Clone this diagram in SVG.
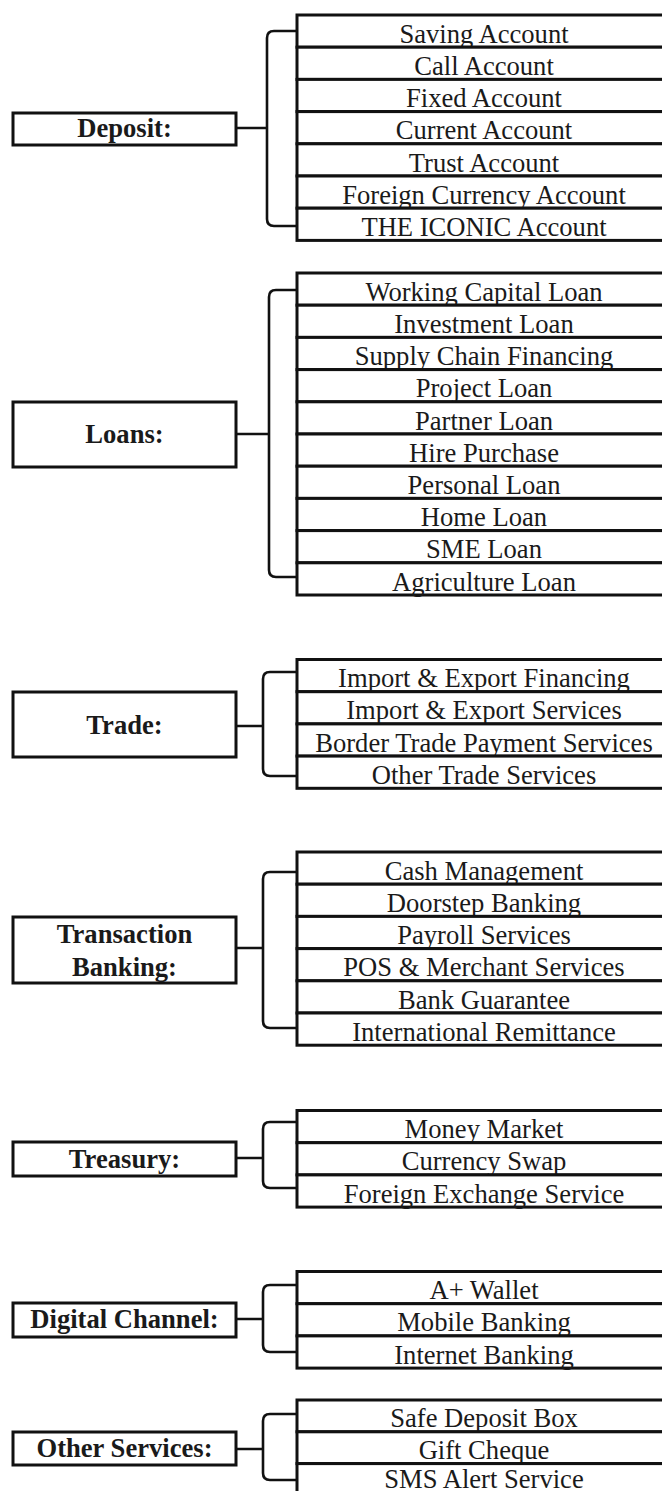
<svg xmlns="http://www.w3.org/2000/svg" width="662" height="1491" viewBox="0 0 662 1491">
  <style>
    .cat rect { fill: #fff; stroke: #111; stroke-width: 3; }
    .cat text { font-family: "Liberation Serif", "Times New Roman", serif; font-weight: bold; font-size: 26.6px; fill: #1a1a1a; text-anchor: middle; }
    .item rect { fill: #fff; stroke: #111; stroke-width: 3; }
    .item text { font-family: "Liberation Serif", "Times New Roman", serif; font-size: 26.6px; fill: #1a1a1a; text-anchor: middle; }
    #connectors path { fill: none; stroke: #111; stroke-width: 2.6; stroke-linejoin: round; }
  </style>
  <rect width="662" height="1491" fill="#fff"/>

  <!-- category boxes -->
  <g id="deposit" class="cat"><rect x="13" y="113" width="223" height="32"/><text x="124.5" y="137">Deposit:</text></g>
  <g id="loans" class="cat"><rect x="13" y="402" width="223" height="65"/><text x="124.5" y="443">Loans:</text></g>
  <g id="trade" class="cat"><rect x="13" y="692" width="223" height="65"/><text x="124.5" y="734">Trade:</text></g>
  <g id="transaction-banking" class="cat"><rect x="13" y="917" width="223" height="66"/><text x="124.5" y="943">Transaction</text><text x="124.5" y="976">Banking:</text></g>
  <g id="treasury" class="cat"><rect x="13" y="1142" width="223" height="34"/><text x="124.5" y="1168">Treasury:</text></g>
  <g id="digital-channel" class="cat"><rect x="13" y="1303" width="223" height="34"/><text x="124.5" y="1328">Digital Channel:</text></g>
  <g id="other-services" class="cat"><rect x="13" y="1432" width="223" height="33"/><text x="124.5" y="1457">Other Services:</text></g>

  <!-- connectors: stub from each category plus a bracket spanning its items -->
  <g id="connectors">
    <path d="M236,128 H267 M297,31 H274 Q267,31 267,38 V219 Q267,226 274,226 H297"/>
    <path d="M236,434 H269 M297,290 H276 Q269,290 269,297 V570 Q269,577 276,577 H297"/>
    <path d="M236,726 H263 M297,672 H270 Q263,672 263,679 V769 Q263,776 270,776 H297"/>
    <path d="M236,948 H263 M297,872 H270 Q263,872 263,879 V1021 Q263,1028 270,1028 H297"/>
    <path d="M236,1158 H263 M297,1122 H270 Q263,1122 263,1129 V1181 Q263,1188 270,1188 H297"/>
    <path d="M236,1319 H263 M297,1285 H270 Q263,1285 263,1292 V1345 Q263,1352 270,1352 H297"/>
    <path d="M236,1449 H263 M297,1414 H270 Q263,1414 263,1421 V1473 Q263,1480 270,1480 H297"/>
  </g>

  <!-- Deposit items -->
  <g id="saving-account" class="item"><rect x="297" y="15" width="374" height="32.2"/><text x="484" y="42.7">Saving Account</text></g>
  <g id="call-account" class="item"><rect x="297" y="47.2" width="374" height="32.2"/><text x="484" y="74.9">Call Account</text></g>
  <g id="fixed-account" class="item"><rect x="297" y="79.4" width="374" height="32.2"/><text x="484" y="107.1">Fixed Account</text></g>
  <g id="current-account" class="item"><rect x="297" y="111.6" width="374" height="32.2"/><text x="484" y="139.3">Current Account</text></g>
  <g id="trust-account" class="item"><rect x="297" y="143.8" width="374" height="32.2"/><text x="484" y="171.5">Trust Account</text></g>
  <g id="foreign-currency-account" class="item"><rect x="297" y="176" width="374" height="32.2"/><text x="484" y="203.7">Foreign Currency Account</text></g>
  <g id="iconic-account" class="item"><rect x="297" y="208.2" width="374" height="32.2"/><text x="484" y="235.9">THE ICONIC Account</text></g>

  <!-- Loans items -->
  <g id="working-capital-loan" class="item"><rect x="297" y="273" width="374" height="32.2"/><text x="484" y="300.7">Working Capital Loan</text></g>
  <g id="investment-loan" class="item"><rect x="297" y="305.2" width="374" height="32.2"/><text x="484" y="332.9">Investment Loan</text></g>
  <g id="supply-chain-financing" class="item"><rect x="297" y="337.4" width="374" height="32.2"/><text x="484" y="365.1">Supply Chain Financing</text></g>
  <g id="project-loan" class="item"><rect x="297" y="369.6" width="374" height="32.2"/><text x="484" y="397.3">Project Loan</text></g>
  <g id="partner-loan" class="item"><rect x="297" y="401.8" width="374" height="32.2"/><text x="484" y="429.5">Partner Loan</text></g>
  <g id="hire-purchase" class="item"><rect x="297" y="434" width="374" height="32.2"/><text x="484" y="461.7">Hire Purchase</text></g>
  <g id="personal-loan" class="item"><rect x="297" y="466.2" width="374" height="32.2"/><text x="484" y="493.9">Personal Loan</text></g>
  <g id="home-loan" class="item"><rect x="297" y="498.4" width="374" height="32.2"/><text x="484" y="526.1">Home Loan</text></g>
  <g id="sme-loan" class="item"><rect x="297" y="530.6" width="374" height="32.2"/><text x="484" y="558.3">SME Loan</text></g>
  <g id="agriculture-loan" class="item"><rect x="297" y="562.8" width="374" height="32.2"/><text x="484" y="590.5">Agriculture Loan</text></g>

  <!-- Trade items -->
  <g id="import-export-financing" class="item"><rect x="297" y="659.5" width="374" height="32.2"/><text x="484" y="687.2">Import &amp; Export Financing</text></g>
  <g id="import-export-services" class="item"><rect x="297" y="691.7" width="374" height="32.2"/><text x="484" y="719.4">Import &amp; Export Services</text></g>
  <g id="border-trade-payment" class="item"><rect x="297" y="723.9" width="374" height="32.2"/><text x="484" y="751.6">Border Trade Payment Services</text></g>
  <g id="other-trade-services" class="item"><rect x="297" y="756.1" width="374" height="32.2"/><text x="484" y="783.8">Other Trade Services</text></g>

  <!-- Transaction Banking items -->
  <g id="cash-management" class="item"><rect x="297" y="852" width="374" height="32.2"/><text x="484" y="879.7">Cash Management</text></g>
  <g id="doorstep-banking" class="item"><rect x="297" y="884.2" width="374" height="32.2"/><text x="484" y="911.9">Doorstep Banking</text></g>
  <g id="payroll-services" class="item"><rect x="297" y="916.4" width="374" height="32.2"/><text x="484" y="944.1">Payroll Services</text></g>
  <g id="pos-merchant-services" class="item"><rect x="297" y="948.6" width="374" height="32.2"/><text x="484" y="976.3">POS &amp; Merchant Services</text></g>
  <g id="bank-guarantee" class="item"><rect x="297" y="980.8" width="374" height="32.2"/><text x="484" y="1008.5">Bank Guarantee</text></g>
  <g id="international-remittance" class="item"><rect x="297" y="1013" width="374" height="32.2"/><text x="484" y="1040.7">International Remittance</text></g>

  <!-- Treasury items -->
  <g id="money-market" class="item"><rect x="297" y="1110.5" width="374" height="32.2"/><text x="484" y="1138.2">Money Market</text></g>
  <g id="currency-swap" class="item"><rect x="297" y="1142.7" width="374" height="32.2"/><text x="484" y="1170.4">Currency Swap</text></g>
  <g id="foreign-exchange-service" class="item"><rect x="297" y="1174.9" width="374" height="32.2"/><text x="484" y="1202.6">Foreign Exchange Service</text></g>

  <!-- Digital Channel items -->
  <g id="a-plus-wallet" class="item"><rect x="297" y="1271.5" width="374" height="32.2"/><text x="484" y="1299.2">A+ Wallet</text></g>
  <g id="mobile-banking" class="item"><rect x="297" y="1303.7" width="374" height="32.2"/><text x="484" y="1331.4">Mobile Banking</text></g>
  <g id="internet-banking" class="item"><rect x="297" y="1335.9" width="374" height="32.2"/><text x="484" y="1363.6">Internet Banking</text></g>

  <!-- Other Services items -->
  <g id="safe-deposit-box" class="item"><rect x="297" y="1400" width="374" height="31.8"/><text x="484" y="1427.4">Safe Deposit Box</text></g>
  <g id="gift-cheque" class="item"><rect x="297" y="1431.8" width="374" height="31.8"/><text x="484" y="1458.5">Gift Cheque</text></g>
  <g id="sms-alert-service" class="item"><rect x="297" y="1463.6" width="374" height="31.8"/><text x="484" y="1487.5">SMS Alert Service</text></g>
</svg>
